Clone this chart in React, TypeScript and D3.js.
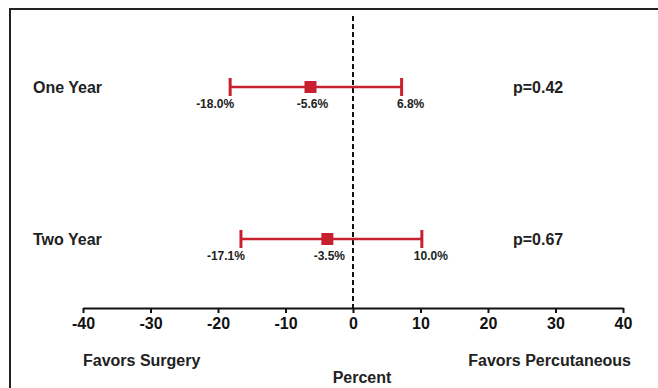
import React, { useEffect, useRef } from "react";
import * as d3 from "d3";

// rows of the forest plot
const rows = ["One Year", "Two Year"];
const lowerCI = [-18.2, -16.6];
const estimate = [-6.3, -3.8];
const upperCI = [7.2, 10.2];
const lowerLabels = ["-18.0%", "-17.1%"];
const estimateLabels = ["-5.6%", "-3.5%"];
const upperLabels = ["6.8%", "10.0%"];
const pValues = ["p=0.42", "p=0.67"];
const xTicks = [-40, -30, -20, -10, 0, 10, 20, 30, 40];

const RED = "#c8202f";
const INK = "#222";
const FONT = "'Liberation Sans', Arial, Helvetica, sans-serif";

export default function App() {
  const ref = useRef<SVGSVGElement>(null);

  useEffect(() => {
    const svg = d3.select(ref.current);
    svg.selectAll("*").remove();

    const x = d3.scaleLinear().domain([-40, 40]).range([83, 623]);
    const y = d3.scalePoint<string>().domain(rows).range([87, 239]);
    const axisY = 308;

    // frame
    svg
      .append("rect")
      .attr("x", 10)
      .attr("y", 9)
      .attr("width", 660)
      .attr("height", 400)
      .attr("fill", "none")
      .attr("stroke", INK)
      .attr("stroke-width", 2);

    // zero line
    svg
      .append("line")
      .attr("x1", x(0))
      .attr("x2", x(0))
      .attr("y1", 16)
      .attr("y2", axisY + 3)
      .attr("stroke", "#111")
      .attr("stroke-width", 2)
      .attr("stroke-dasharray", "5,3");

    // x axis
    const axis = svg
      .append("g")
      .attr("transform", `translate(0, ${axisY})`)
      .call(
        d3
          .axisBottom(x)
          .tickValues(xTicks)
          .tickFormat((d) => String(d))
          .tickSize(5)
          .tickPadding(5)
          .tickSizeOuter(0)
      );
    axis.select(".domain").attr("stroke", "#111").attr("stroke-width", 2);
    axis.selectAll(".tick line").attr("stroke", "#111").attr("stroke-width", 2);
    axis
      .selectAll(".tick text")
      .attr("fill", "#111")
      .style("font-family", FONT)
      .style("font-size", "16px")
      .style("font-weight", "bold");

    const g = svg.append("g");
    rows.forEach((r, i) => {
      const cy = y(r)!;
      g.append("line")
        .attr("x1", x(lowerCI[i]))
        .attr("x2", x(upperCI[i]))
        .attr("y1", cy)
        .attr("y2", cy)
        .attr("stroke", RED)
        .attr("stroke-width", 2.5);
      [lowerCI[i], upperCI[i]].forEach((v) => {
        g.append("line")
          .attr("x1", x(v))
          .attr("x2", x(v))
          .attr("y1", cy - 9)
          .attr("y2", cy + 9)
          .attr("stroke", RED)
          .attr("stroke-width", 3);
      });
      g.append("rect")
        .attr("x", x(estimate[i]) - 6)
        .attr("y", cy - 6)
        .attr("width", 12)
        .attr("height", 12)
        .attr("fill", RED);

      const small = (t: string, px: number) =>
        g
          .append("text")
          .attr("x", px)
          .attr("y", cy + 21)
          .attr("text-anchor", "middle")
          .attr("fill", INK)
          .style("font-family", FONT)
          .style("font-size", "12px")
          .style("font-weight", "bold")
          .text(t);
      small(lowerLabels[i], x(lowerCI[i]) - 15);
      small(estimateLabels[i], x(estimate[i]) + 2);
      small(upperLabels[i], x(upperCI[i]) + 9);

      g.append("text")
        .attr("x", 33)
        .attr("y", cy + 6)
        .attr("fill", INK)
        .style("font-family", FONT)
        .style("font-size", "16px")
        .style("font-weight", "bold")
        .text(r);
      g.append("text")
        .attr("x", 513)
        .attr("y", cy + 6)
        .attr("fill", INK)
        .style("font-family", FONT)
        .style("font-size", "16px")
        .style("font-weight", "bold")
        .text(pValues[i]);
    });

    const label = (t: string, px: number, py: number, anchor: string) =>
      svg
        .append("text")
        .attr("x", px)
        .attr("y", py)
        .attr("text-anchor", anchor)
        .attr("fill", INK)
        .style("font-family", FONT)
        .style("font-size", "16px")
        .style("font-weight", "bold")
        .text(t);
    label("Favors Surgery", x(-40), 366, "start");
    label("Favors Percutaneous", 631, 366, "end");
    label("Percent", 362, 383, "middle");
  }, []);

  return (
    <svg
      ref={ref}
      width={658}
      height={388}
      style={{ position: "absolute", left: 0, top: 0, background: "#fff" }}
    />
  );
}
